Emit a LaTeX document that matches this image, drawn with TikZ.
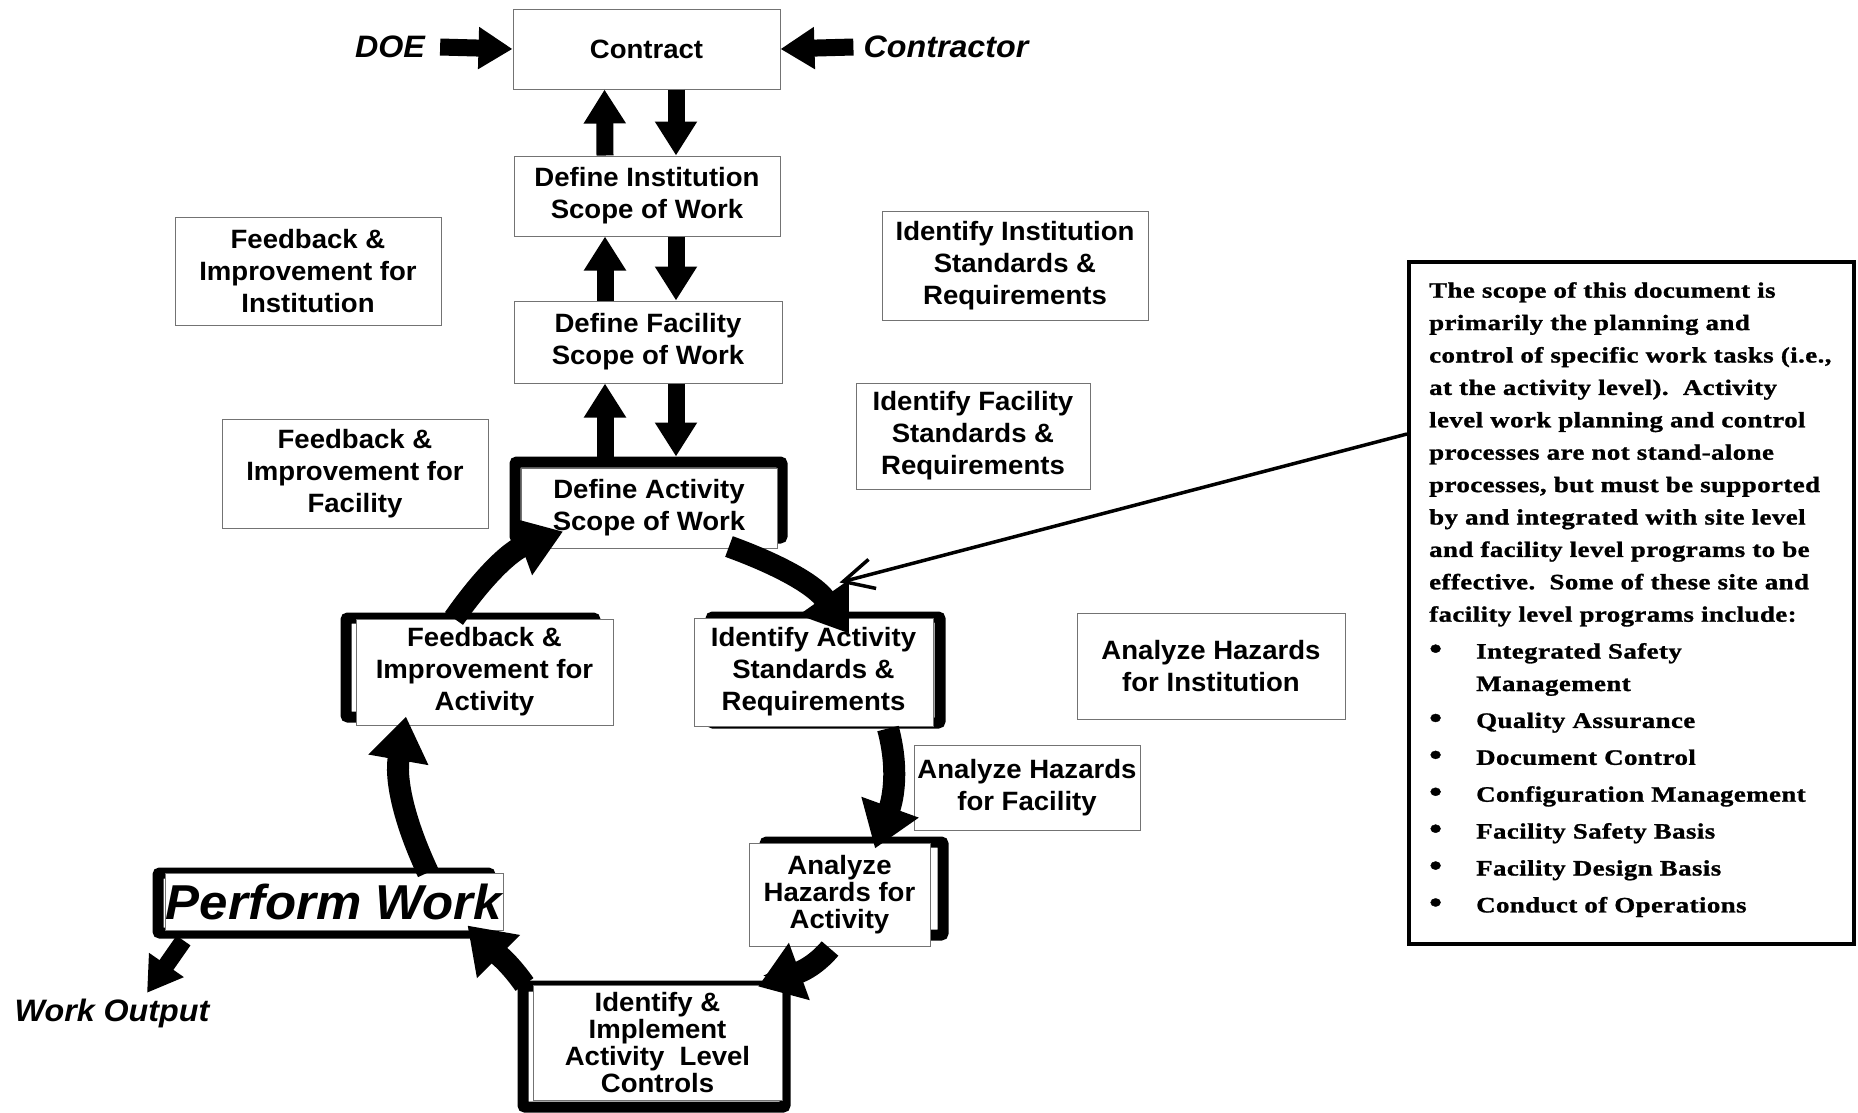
\documentclass[tikz,border=0pt]{standalone}
\usepackage{fontspec}
\setmainfont{Liberation Sans}
\newfontfamily\boxsans[FakeStretch=1.04]{Liberation Sans}
\newfontfamily\noteserif[FakeStretch=1.22,LetterSpace=2,FakeBold=1.2]{Liberation Serif}
\usetikzlibrary{arrows.meta,backgrounds}

\tikzset{
  box/.style={draw=black!55, line width=1pt, fill=white, align=center, inner sep=0pt,
    font=\boxsans\bfseries\fontsize{26.5}{32}\selectfont},
  tightbox/.style={box, font=\boxsans\bfseries\fontsize{26.5}{27}\selectfont},
  actframe/.style={draw=black, line width=11pt, rounded corners=2pt},
  sidetext/.style={inner sep=0pt, font=\boxsans\bfseries\itshape\fontsize{31}{36}\selectfont},
  blockarrow/.style={line width=17pt, -{Triangle[length=34pt,width=40pt]}},
  cyclearrow/.style={line width=22pt, -{Triangle[length=44pt,width=58pt]}},
  callout/.style={line width=3.5pt, -{Straight Barb[length=30pt,width=30pt]}},
  notebox/.style={draw=black, line width=4pt, minimum width=445pt, minimum height=682pt},
}
\newcommand{\notebullet}{\makebox[47pt][l]{\fontsize{30}{30}\selectfont\textbullet}}

\begin{document}
\begin{tikzpicture}[x=1pt,y=1pt]
\useasboundingbox (0,0) rectangle (1858,-1112);
% scope column
\node[box, minimum width=267pt, minimum height=80pt] (contract) at (646.5,-49) {Contract};
\node[box, minimum width=266pt, minimum height=80pt] (definst) at (647,-196) {Define Institution\\Scope of Work};
\node[box, minimum width=268pt, minimum height=82pt] (deffac) at (648,-342) {Define Facility\\Scope of Work};
\node[box, minimum width=256pt, minimum height=80pt] (defact) at (649,-508) {Define Activity\\Scope of Work};
\node[sidetext] (doe) at (390,-47) {DOE};
\node[sidetext] (contractor) at (946,-47) {Contractor};
% institution and facility boxes
\node[box, minimum width=266pt, minimum height=108pt] (fbinst) at (308,-271) {Feedback \&\\Improvement for\\Institution};
\node[box, minimum width=266pt, minimum height=109pt] (idinst) at (1015,-265.5) {Identify Institution\\Standards \&\\Requirements};
\node[box, minimum width=266pt, minimum height=109pt] (fbfac) at (355,-473.5) {Feedback \&\\Improvement for\\Facility};
\node[box, minimum width=234pt, minimum height=106pt] (idfac) at (973,-436) {Identify Facility\\Standards \&\\Requirements};
\node[box, minimum width=268pt, minimum height=106pt] (hazinst) at (1211,-666) {Analyze Hazards\\for Institution};
\node[box, minimum width=226pt, minimum height=85pt] (hazfac) at (1027,-787.5) {Analyze Hazards\\for Facility};
% activity loop
\node[box, minimum width=257pt, minimum height=106pt] (fbact) at (484.5,-672) {Feedback \&\\Improvement for\\Activity};
\node[box, minimum width=239pt, minimum height=108pt] (idact) at (813.5,-672) {Identify Activity\\Standards \&\\Requirements};
\node[tightbox, minimum width=181pt, minimum height=103pt] (hazact) at (839.5,-894.5) {Analyze\\Hazards for\\Activity};
\node[tightbox, minimum width=249pt, minimum height=115pt] (ctrl) at (657.5,-1042.5) {Identify \&\\Implement\\Activity\ \ Level\\Controls};
\node[box, minimum width=338pt, minimum height=57pt, font=\boxsans\bfseries\itshape\fontsize{49}{55}\selectfont] (perform) at (334,-901.5) {Perform Work};
\node[sidetext] (output) at (112,-1013) {Work Output};
% thick frames behind the activity boxes
\begin{scope}[on background layer]
\draw[actframe] ([shift={(-5.5,10.5)}]defact.south west) rectangle ([shift={(4.5,5.5)}]defact.north east);
\draw[actframe] ([shift={(-9.5,8.5)}]fbact.south west) rectangle ([shift={(-18.5,0.5)}]fbact.north east);
\draw[actframe] ([shift={(17.5,3.5)}]idact.south west) rectangle ([shift={(6.5,0.5)}]idact.north east);
\draw[actframe] ([shift={(16.5,11.5)}]hazact.south west) rectangle ([shift={(12.5,0.5)}]hazact.north east);
\draw[actframe] ([shift={(-9.5,-6.5)}]ctrl.south west) rectangle ([shift={(2.5,-1.5)}]ctrl.north east);
\draw[actframe] ([shift={(-6.5,-2.5)}]perform.south west) rectangle ([shift={(-13.5,-0.5)}]perform.north east);
\end{scope}
% up and down the scope column
\draw[blockarrow] (doe.east) ++(15,0) -- (contract.west);
\draw[blockarrow] ([xshift=-10pt]contractor.west) -- (contract.east);
\draw[blockarrow] ([xshift=-42pt]definst.north) -- ([xshift=-42pt]contract.south);
\draw[blockarrow] ([xshift=29.5pt]contract.south) -- ([xshift=29pt]definst.north);
\draw[blockarrow] ([xshift=-43pt]deffac.north) -- ([xshift=-42pt]definst.south);
\draw[blockarrow] ([xshift=29pt]definst.south) -- ([xshift=28pt]deffac.north);
\draw[blockarrow] ([xshift=-44pt,yshift=11pt]defact.north) -- ([xshift=-43pt]deffac.south);
\draw[blockarrow] ([xshift=28pt]deffac.south) -- ([xshift=27pt,yshift=11pt]defact.north);
\draw[blockarrow] ([shift={(19,-10)}]perform.south west) -- ([shift={(35,5.5)}]output.north);
% the activity cycle
\draw[cyclearrow] ([shift={(80,2)}]defact.south) to[out=-20,in=125] ([shift={(35.5,-16)}]idact.north);
\draw[cyclearrow] ([shift={(74.5,-2)}]idact.south) to[out=-75,in=70] ([shift={(35.5,-6)}]hazact.north);
\draw[cyclearrow] ([shift={(-9.5,-2)}]hazact.south) to[out=-130,in=20] ([shift={(100.5,-2)}]ctrl.north);
\draw[cyclearrow] ([xshift=-8pt]ctrl.north west) to[out=125,in=-45] ([shift={(-36,5)}]perform.south east);
\draw[cyclearrow] ([xshift=94pt]perform.north) to[out=115,in=-100] ([shift={(-78.5,9)}]fbact.south);
\draw[cyclearrow] ([xshift=-30.5pt]fbact.north) to[out=55,in=-160] ([shift={(-86,17)}]defact.south);
% scope note
\node[notebox] (note) at (1631.5,-603) {};
\node[anchor=north west, align=left, inner sep=0pt, font=\noteserif\bfseries\fontsize{22}{32.4}\selectfont] (notetext) at ([shift={(22,-22)}]note.north west)
{The scope of this document is\\
primarily the planning and\\
control of specific work tasks (i.e.,\\
at the activity level).\ \ Activity\\
level work planning and control\\
processes are not stand-alone\\
processes, but must be supported\\
by and integrated with site level\\
and facility level programs to be\\
effective.\ \ Some of these site and\\
facility level programs include:\\[4.5pt]
\notebullet Integrated Safety\\
\hspace*{47pt}Management\\[4.5pt]
\notebullet Quality Assurance\\[4.5pt]
\notebullet Document Control\\[4.5pt]
\notebullet Configuration Management\\[4.5pt]
\notebullet Facility Safety Basis\\[4.5pt]
\notebullet Facility Design Basis\\[4.5pt]
\notebullet Conduct of Operations};
\draw[callout] ([yshift=169pt]note.west) -- ([shift={(26,35)}]idact.north);
\end{tikzpicture}
\end{document}
